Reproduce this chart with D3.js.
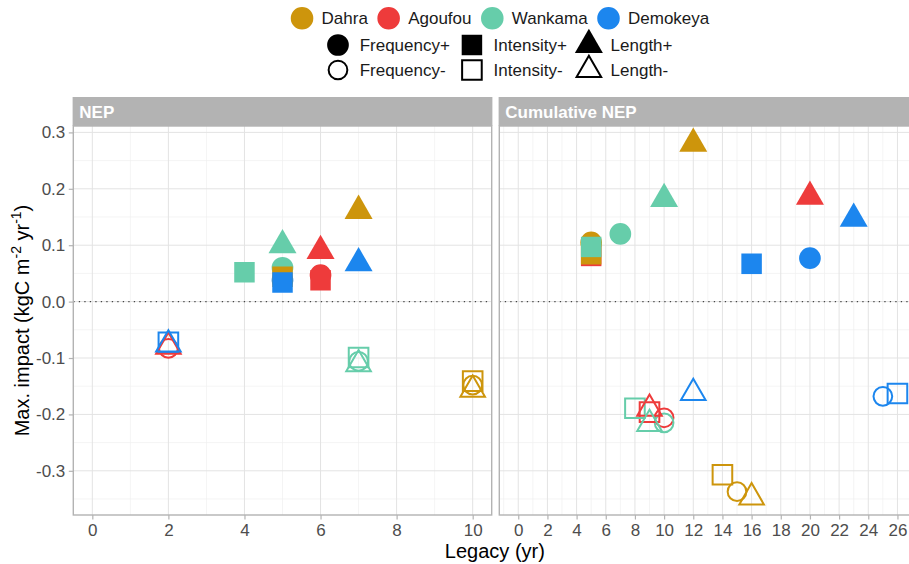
<!DOCTYPE html>
<html>
<head>
<meta charset="utf-8">
<script src="https://cdn.jsdelivr.net/npm/d3@7"></script>
<style>
  body { margin: 0; background: #fff; }
  svg { display: block; font-family: "Liberation Sans", Arial, sans-serif; }
</style>
</head>
<body>
<svg id="chart" width="909" height="564"></svg>
<script>
// ---- data ----
var sites = ["Dahra", "Agoufou", "Wankama", "Demokeya"];
var siteColours = ["#CD950C", "#EE3B3B", "#66CDAA", "#1C86EE"];
var effects = ["Frequency+", "Frequency-", "Intensity+", "Intensity-", "Length+", "Length-"];

// NEP panel
var nepSite   = ["Agoufou", "Demokeya", "Wankama",
                 "Agoufou", "Dahra", "Wankama",
                 "Agoufou", "Dahra", "Demokeya", "Wankama",
                 "Dahra", "Demokeya", "Wankama",
                 "Agoufou", "Dahra", "Demokeya", "Wankama",
                 "Agoufou", "Dahra", "Demokeya", "Wankama"];
var nepEffect = ["Frequency+", "Frequency+", "Frequency+",
                 "Frequency-", "Frequency-", "Frequency-",
                 "Intensity+", "Intensity+", "Intensity+", "Intensity+",
                 "Intensity-", "Intensity-", "Intensity-",
                 "Length+", "Length+", "Length+", "Length+",
                 "Length-", "Length-", "Length-", "Length-"];
var nepLegacy = [6, 5, 5,
                 2, 10, 7,
                 6, 5, 5, 4,
                 10, 2, 7,
                 6, 7, 7, 5,
                 2, 10, 2, 7];
var nepImpact = [0.047, 0.038, 0.060,
                 -0.083, -0.148, -0.106,
                 0.038, 0.044, 0.034, 0.052,
                 -0.141, -0.072, -0.099,
                 0.090, 0.161, 0.068, 0.100,
                 -0.080, -0.156, -0.076, -0.111];

// Cumulative NEP panel
var cumSite   = ["Dahra", "Demokeya", "Wankama",
                 "Agoufou", "Dahra", "Demokeya", "Wankama",
                 "Agoufou", "Dahra", "Demokeya", "Wankama",
                 "Agoufou", "Dahra", "Demokeya", "Wankama",
                 "Agoufou", "Dahra", "Demokeya", "Wankama",
                 "Agoufou", "Dahra", "Demokeya", "Wankama"];
var cumEffect = ["Frequency+", "Frequency+", "Frequency+",
                 "Frequency-", "Frequency-", "Frequency-", "Frequency-",
                 "Intensity+", "Intensity+", "Intensity+", "Intensity+",
                 "Intensity-", "Intensity-", "Intensity-", "Intensity-",
                 "Length+", "Length+", "Length+", "Length+",
                 "Length-", "Length-", "Length-", "Length-"];
var cumLegacy = [5, 20, 7,
                 10, 15, 25, 10,
                 5, 5, 16, 5,
                 9, 14, 26, 8,
                 20, 12, 23, 10,
                 9, 16, 12, 9];
var cumImpact = [0.105, 0.077, 0.120,
                 -0.206, -0.337, -0.168, -0.215,
                 0.081, 0.084, 0.067, 0.097,
                 -0.196, -0.307, -0.163, -0.189,
                 0.186, 0.280, 0.147, 0.182,
                 -0.190, -0.347, -0.162, -0.217];

var xLimitsNep = [0, 10], xTicksNep = [0, 2, 4, 6, 8, 10];
var xLimitsCum = [0, 26], xTicksCum = [0, 2, 4, 6, 8, 10, 12, 14, 16, 18, 20, 22, 24, 26];
var yTicks = [-0.3, -0.2, -0.1, 0.0, 0.1, 0.2, 0.3];

// ---- layout ----
var svg = d3.select("#chart");
var panelTop = 126, panelBottom = 515, stripTop = 97;
var grey70 = "#B3B3B3";

var colour = d3.scaleOrdinal().domain(sites).range(siteColours);

var allImpact = nepImpact.concat(cumImpact);
var yExt = d3.extent(allImpact);
var yPad = (yExt[1] - yExt[0]) * 0.05;
var y = d3.scaleLinear().domain([yExt[0] - yPad, yExt[1] + yPad]).range([panelBottom, panelTop]);

// shapes like ggplot 16/15/17 (filled) and 1/0/2 (open)
var symbolTypes = { Frequency: d3.symbolCircle, Intensity: d3.symbolSquare, Length: d3.symbolTriangle };
var filledSize = { Frequency: 370, Intensity: 420, Length: 340 };
var openSize = { Frequency: 275, Intensity: 385, Length: 262 };

function shapePath(effect) {
    var base = effect.slice(0, -1);
    var filled = effect.slice(-1) === "+";
    return d3.symbol().type(symbolTypes[base]).size(filled ? filledSize[base] : openSize[base])();
}

function drawPoint(g, effect, col) {
    var filled = effect.slice(-1) === "+";
    return g.append("path")
        .attr("d", shapePath(effect))
        .attr("fill", filled ? col : "none")
        .attr("stroke", filled ? "none" : col)
        .attr("stroke-width", filled ? 0 : 2);
}

var panels = [
    { title: "NEP", left: 73.3, right: 491.7, limits: xLimitsNep, ticks: xTicksNep,
      site: nepSite, effect: nepEffect, legacy: nepLegacy, impact: nepImpact },
    { title: "Cumulative NEP", left: 499.3, right: 916.4, limits: xLimitsCum, ticks: xTicksCum,
      site: cumSite, effect: cumEffect, legacy: cumLegacy, impact: cumImpact }
];

panels.forEach(function (p, i) {
    var pad = (p.limits[1] - p.limits[0]) * 0.05;
    var x = d3.scaleLinear().domain([p.limits[0] - pad, p.limits[1] + pad]).range([p.left, p.right]);
    var g = svg.append("g");

    // minor grid
    var minorX = d3.range(Math.ceil(x.domain()[0]), x.domain()[1], 1).filter(function (v) { return v % 2 !== 0; });
    var minorY = yTicks.map(function (v) { return v - 0.05; }).filter(function (v) { return v > y.domain()[0]; });
    g.selectAll(".minx").data(minorX).enter().append("line")
        .attr("x1", x).attr("x2", x).attr("y1", panelTop).attr("y2", panelBottom)
        .attr("stroke", "#EFEFEF").attr("stroke-width", 0.7);
    g.selectAll(".miny").data(minorY).enter().append("line")
        .attr("x1", p.left).attr("x2", p.right).attr("y1", y).attr("y2", y)
        .attr("stroke", "#EFEFEF").attr("stroke-width", 0.7);
    // major grid
    g.selectAll(".majx").data(p.ticks).enter().append("line")
        .attr("x1", x).attr("x2", x).attr("y1", panelTop).attr("y2", panelBottom)
        .attr("stroke", "#E3E3E3").attr("stroke-width", 1);
    g.selectAll(".majy").data(yTicks).enter().append("line")
        .attr("x1", p.left).attr("x2", p.right).attr("y1", y).attr("y2", y)
        .attr("stroke", "#E3E3E3").attr("stroke-width", 1);

    // zero line
    g.append("line")
        .attr("x1", p.left).attr("x2", p.right).attr("y1", y(0)).attr("y2", y(0))
        .attr("stroke", "#444").attr("stroke-width", 1.3).attr("stroke-dasharray", "1.3,4.2");

    // points
    g.append("clipPath").attr("id", "clip" + i).append("rect")
        .attr("x", p.left).attr("y", panelTop).attr("width", p.right - p.left).attr("height", panelBottom - panelTop);
    var pts = g.append("g").attr("clip-path", "url(#clip" + i + ")");
    p.site.forEach(function (s, k) {
        drawPoint(pts, p.effect[k], colour(s))
            .attr("transform", "translate(" + x(p.legacy[k]) + "," + y(p.impact[k]) + ")");
    });

    // border
    g.append("rect")
        .attr("x", p.left).attr("y", panelTop).attr("width", p.right - p.left).attr("height", panelBottom - panelTop)
        .attr("fill", "none").attr("stroke", grey70).attr("stroke-width", 1.4);

    // strip
    g.append("rect")
        .attr("x", p.left - 0.7).attr("y", stripTop).attr("width", p.right - p.left + 1.4).attr("height", panelTop - stripTop)
        .attr("fill", grey70);
    g.append("text")
        .attr("x", p.left + 6).attr("y", (stripTop + panelTop) / 2).attr("dy", "0.36em")
        .attr("fill", "#fff").attr("font-weight", "bold").attr("font-size", 17)
        .text(p.title);

    // x axis
    var xAxis = g.append("g").attr("transform", "translate(0," + panelBottom + ")")
        .call(d3.axisBottom(x).tickValues(p.ticks).tickSize(4.5).tickPadding(4).tickFormat(d3.format("d")));
    xAxis.select(".domain").remove();
    xAxis.selectAll(".tick line").attr("stroke", grey70).attr("stroke-width", 1.2);
    xAxis.selectAll(".tick text").attr("fill", "#4D4D4D").attr("font-size", 17)
        .attr("font-family", "Liberation Sans, Arial, sans-serif");

    if (i === 0) {
        var yAxis = g.append("g").attr("transform", "translate(" + p.left + ",0)")
            .call(d3.axisLeft(y).tickValues(yTicks).tickSize(4.5).tickPadding(3.5)
                .tickFormat(function (v) { return v.toFixed(1); }));
        yAxis.select(".domain").remove();
        yAxis.selectAll(".tick line").attr("stroke", grey70).attr("stroke-width", 1.2);
        yAxis.selectAll(".tick text").attr("fill", "#4D4D4D").attr("font-size", 17)
            .attr("font-family", "Liberation Sans, Arial, sans-serif");
    }
});

// axis titles
svg.append("text")
    .attr("x", (panels[0].left + panels[1].right) / 2).attr("y", 558)
    .attr("text-anchor", "middle").attr("font-size", 20).attr("fill", "#000")
    .text("Legacy (yr)");

var yTitle = svg.append("text")
    .attr("transform", "translate(22," + (panelTop + panelBottom) / 2 + ") rotate(-90)")
    .attr("dy", "0.36em")
    .attr("text-anchor", "middle").attr("font-size", 20).attr("fill", "#000");
yTitle.append("tspan").text("Max. impact (kgC m");
yTitle.append("tspan").attr("font-size", 14).attr("baseline-shift", "super").text("-2");
yTitle.append("tspan").text(" yr");
yTitle.append("tspan").attr("font-size", 14).attr("baseline-shift", "super").text("-1");
yTitle.append("tspan").text(")");

// ---- legends ----
var legendCentre = 500;

// site colours
var colLeg = svg.append("g");
var cx = 0;
sites.forEach(function (s) {
    var item = colLeg.append("g");
    item.append("path").attr("d", d3.symbol().type(d3.symbolCircle).size(400)())
        .attr("transform", "translate(" + (cx + 11.3) + ",18.3)").attr("fill", colour(s));
    var t = item.append("text").attr("x", cx + 30.8).attr("y", 18.3).attr("dy", "0.36em")
        .attr("font-size", 17).attr("fill", "#1A1A1A").text(s);
    cx += 30.8 + t.node().getComputedTextLength() + 9.5;
});
cx -= 9.5;
colLeg.attr("transform", "translate(" + (legendCentre - cx / 2) + ",0)");

// effect shapes (3 columns x 2 rows)
var shpLeg = svg.append("g");
var sx = 10.5;
var rowY = [45, 70];
for (var c = 0; c < 3; c++) {
    var maxW = 0;
    for (var r = 0; r < 2; r++) {
        var e = effects[c * 2 + r];
        drawPoint(shpLeg, e, "#000").attr("transform", "translate(" + sx + "," + rowY[r] + ")");
        var t = shpLeg.append("text").attr("x", sx + 21.7).attr("y", rowY[r]).attr("dy", "0.36em")
            .attr("font-size", 17).attr("fill", "#1A1A1A").text(e);
        maxW = Math.max(maxW, t.node().getComputedTextLength());
    }
    sx += 21.7 + maxW + (c < 2 ? 22 : 0);
}
shpLeg.attr("transform", "translate(" + (legendCentre - sx / 2) + ",0)");
</script>
</body>
</html>
